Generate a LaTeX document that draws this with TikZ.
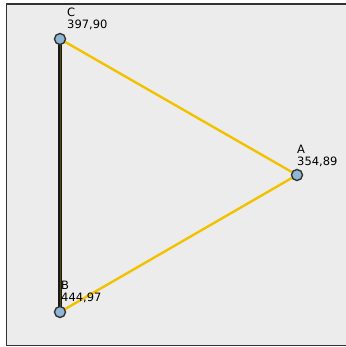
\documentclass[tikz,border=0pt]{standalone}
\usepackage{fontspec}
\setmainfont{DejaVu Sans}
\definecolor{nodeblue}{RGB}{143,182,212}
\definecolor{edgeyellow}{RGB}{242,194,0}
\definecolor{edgeolive}{RGB}{85,72,0}
\begin{document}
\begin{tikzpicture}[x=1pt,y=1pt,
  vtx/.style={circle,draw=black!80,line width=1.4pt,fill=nodeblue,inner sep=0pt,minimum size=11pt},
  yedge/.style={draw=edgeyellow,line width=2.4pt},
  lbl/.style={anchor=south west,inner sep=0pt,align=left,text depth=0pt,font=\fontsize{11.5}{12.5}\selectfont}]
\useasboundingbox (0,0) rectangle (345,347);
\fill[white] (0,0) rectangle (345,347);
\fill[gray!15] (6.5,1.5) rectangle (346,343);
\draw[black!80,line width=1.5pt] (346,343) -- (6.5,343) -- (6.5,1.5) -- (346,1.5);
\coordinate (Cp) at (60,308);
\coordinate (Ap) at (297,172);
\coordinate (Bp) at (60,35);
\draw[yedge] (Cp) -- (Ap);
\draw[yedge] (Ap) -- (Bp);
\draw[line width=4.5pt,black!90] (Cp) -- (Bp);
\draw[line width=0.9pt,edgeolive] (Cp) -- (Bp);
\node[vtx] (C) at (Cp) {};
\node[vtx] (A) at (Ap) {};
\node[vtx] (B) at (Bp) {};
\node[lbl] (lC) at (67,318) {C\\397,90};
\node[lbl] (lA) at (297,181) {A\\354,89};
\node[lbl] (lB) at (61,45) {B\\444,97};
\end{tikzpicture}
\end{document}
